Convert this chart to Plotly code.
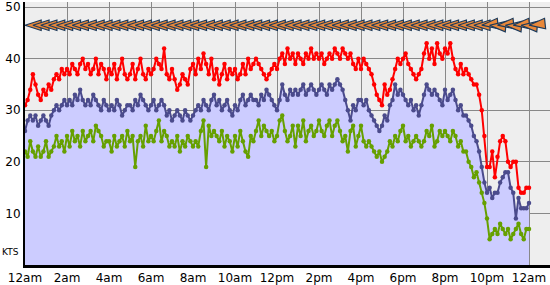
import plotly.graph_objects as go

# Wind readings, 8 samples per hour (7.5 min), 12am -> 12am
gust = [
    31,32,34,37,35,33,32,34,
    33,35,34,36,37,36,38,37,
    38,37,39,38,37,39,40,38,
    39,37,38,40,37,39,38,36,
    38,37,39,36,38,40,37,36,
    37,39,36,38,40,37,36,38,
    37,38,40,39,38,42,37,36,
    38,36,34,35,37,36,35,38,
    39,37,40,38,41,39,37,40,
    36,38,35,37,39,36,38,37,
    38,36,37,39,37,40,38,39,
    40,39,38,37,36,37,38,39,
    38,40,41,39,42,40,41,39,
    41,40,39,41,40,42,40,41,
    40,41,39,40,41,40,42,41,
    40,42,41,40,41,39,38,40,
    38,40,39,38,37,35,33,32,
    31,35,33,34,36,38,40,39,
    40,41,39,38,37,36,37,38,
    41,43,40,42,39,43,41,40,
    42,41,43,40,38,37,39,37,
    38,37,36,35,35,33,30,25,
    19,19,22,17,21,24,25,24,
    20,19,20,20,15,14,14,15,
    15,
]
avg = [
    26,28,29,28,29,27,28,29,
    28,27,29,30,31,30,31,32,
    31,32,31,33,32,34,32,31,
    32,31,33,32,31,30,32,31,
    30,31,30,32,31,29,30,31,
    31,30,32,31,33,32,31,30,
    31,32,30,31,32,31,29,30,
    28,29,30,29,28,30,29,28,
    29,30,31,30,32,31,30,32,
    33,31,32,30,31,32,30,29,
    31,30,32,33,31,32,33,32,
    32,31,33,32,34,33,32,31,
    30,32,35,33,32,34,33,34,
    33,34,35,33,34,35,34,33,
    34,35,34,33,35,34,35,36,
    35,34,32,30,28,31,30,32,
    32,31,32,30,29,28,27,26,
    27,29,28,31,32,35,33,34,
    33,32,31,32,30,31,29,31,
    33,35,34,33,34,33,32,31,
    34,32,33,34,32,30,31,29,
    29,28,27,25,24,22,19,16,
    14,15,13,14,14,16,17,18,
    18,15,14,9,13,11,11,11,
    12,
]
lull = [
    22,21,24,22,21,23,21,22,
    24,21,22,23,25,23,24,22,
    25,23,26,24,25,23,26,24,
    25,26,24,27,26,25,23,24,
    24,22,25,23,24,25,23,26,
    24,25,19,24,25,23,27,24,
    25,24,26,28,24,26,25,23,
    24,23,25,22,24,23,25,24,
    23,24,23,26,28,19,27,25,
    26,25,24,26,23,25,24,22,
    25,23,26,24,22,21,25,24,
    26,28,25,27,26,25,26,24,
    25,28,29,26,24,25,27,23,
    27,25,28,24,26,27,25,26,
    28,26,25,27,28,25,27,28,
    26,24,25,22,26,27,23,25,
    27,24,23,24,23,22,21,22,
    20,21,22,24,23,25,24,26,
    27,24,25,23,24,25,24,23,
    24,26,25,27,23,24,26,25,
    26,25,24,26,25,23,24,22,
    22,20,19,17,18,16,14,12,
    9,5,6,7,6,8,7,6,
    7,5,6,7,8,6,5,7,
    7,
]
hours = [i / 8 for i in range(len(gust))]

# Direction arrows (rotation in degrees; -90 = pointing left)
dir_hours = hours[::3]
dir_angle = [-90] * len(dir_hours)
for k, h in enumerate(dir_hours):
    if h >= 21.5:
        dir_angle[k] = -90 + (5 if k % 2 else -6)
dir_level = [46.5] * len(dir_hours)

tick_vals = list(range(0, 25, 2))
tick_text = ["12am", "2am", "4am", "6am", "8am", "10am", "12pm",
             "2pm", "4pm", "6pm", "8pm", "10pm", "12am"]
y_ticks = [10, 20, 30, 40, 50]

fig = go.Figure()
fig.add_trace(go.Scatter(
    x=hours, y=avg, mode="lines+markers", fill="tozeroy",
    fillcolor="#CCCCFF", line=dict(color="#4B4B8C", width=2),
    marker=dict(size=4.5, color="#4B4B8C"), hoverinfo="skip"))
fig.add_trace(go.Scatter(
    x=hours, y=lull, mode="lines+markers",
    line=dict(color="#66A000", width=2),
    marker=dict(size=4.5, color="#66A000"), hoverinfo="skip"))
fig.add_trace(go.Scatter(
    x=hours, y=gust, mode="lines+markers",
    line=dict(color="#FF0000", width=2),
    marker=dict(size=4.5, color="#FF0000"), hoverinfo="skip"))
fig.add_trace(go.Scatter(
    x=dir_hours, y=dir_level, mode="markers", cliponaxis=False,
    marker=dict(symbol="arrow", size=17, angle=dir_angle,
                color="#E8883A", line=dict(color="#1B3A5C", width=1.2)),
    hoverinfo="skip"))

fig.add_annotation(text="KTS", xref="paper", yref="y", x=0, y=2.5,
                   xanchor="right", yanchor="middle", showarrow=False,
                   xshift=-4, font=dict(family="DejaVu Sans", size=9, color="#000"))

fig.update_layout(
    width=550, height=285, margin=dict(l=25, r=0, t=0, b=20),
    paper_bgcolor="white", plot_bgcolor="#EEEEEE", showlegend=False,
    font=dict(family="DejaVu Sans", size=12, color="#000"),
)
fig.update_xaxes(range=[0, 25], tickvals=tick_vals, ticktext=tick_text,
                 showgrid=True, gridcolor="#888888", gridwidth=1,
                 showline=True, linecolor="#000", linewidth=3,
                 zeroline=False, ticks="", fixedrange=True)
fig.update_yaxes(range=[0, 51], tickvals=y_ticks, ticklabeloverflow="allow",
                 showgrid=True, gridcolor="#888888", gridwidth=1,
                 showline=True, linecolor="#000", linewidth=2,
                 zeroline=False, ticks="", fixedrange=True)

fig.write_html("out.html")
